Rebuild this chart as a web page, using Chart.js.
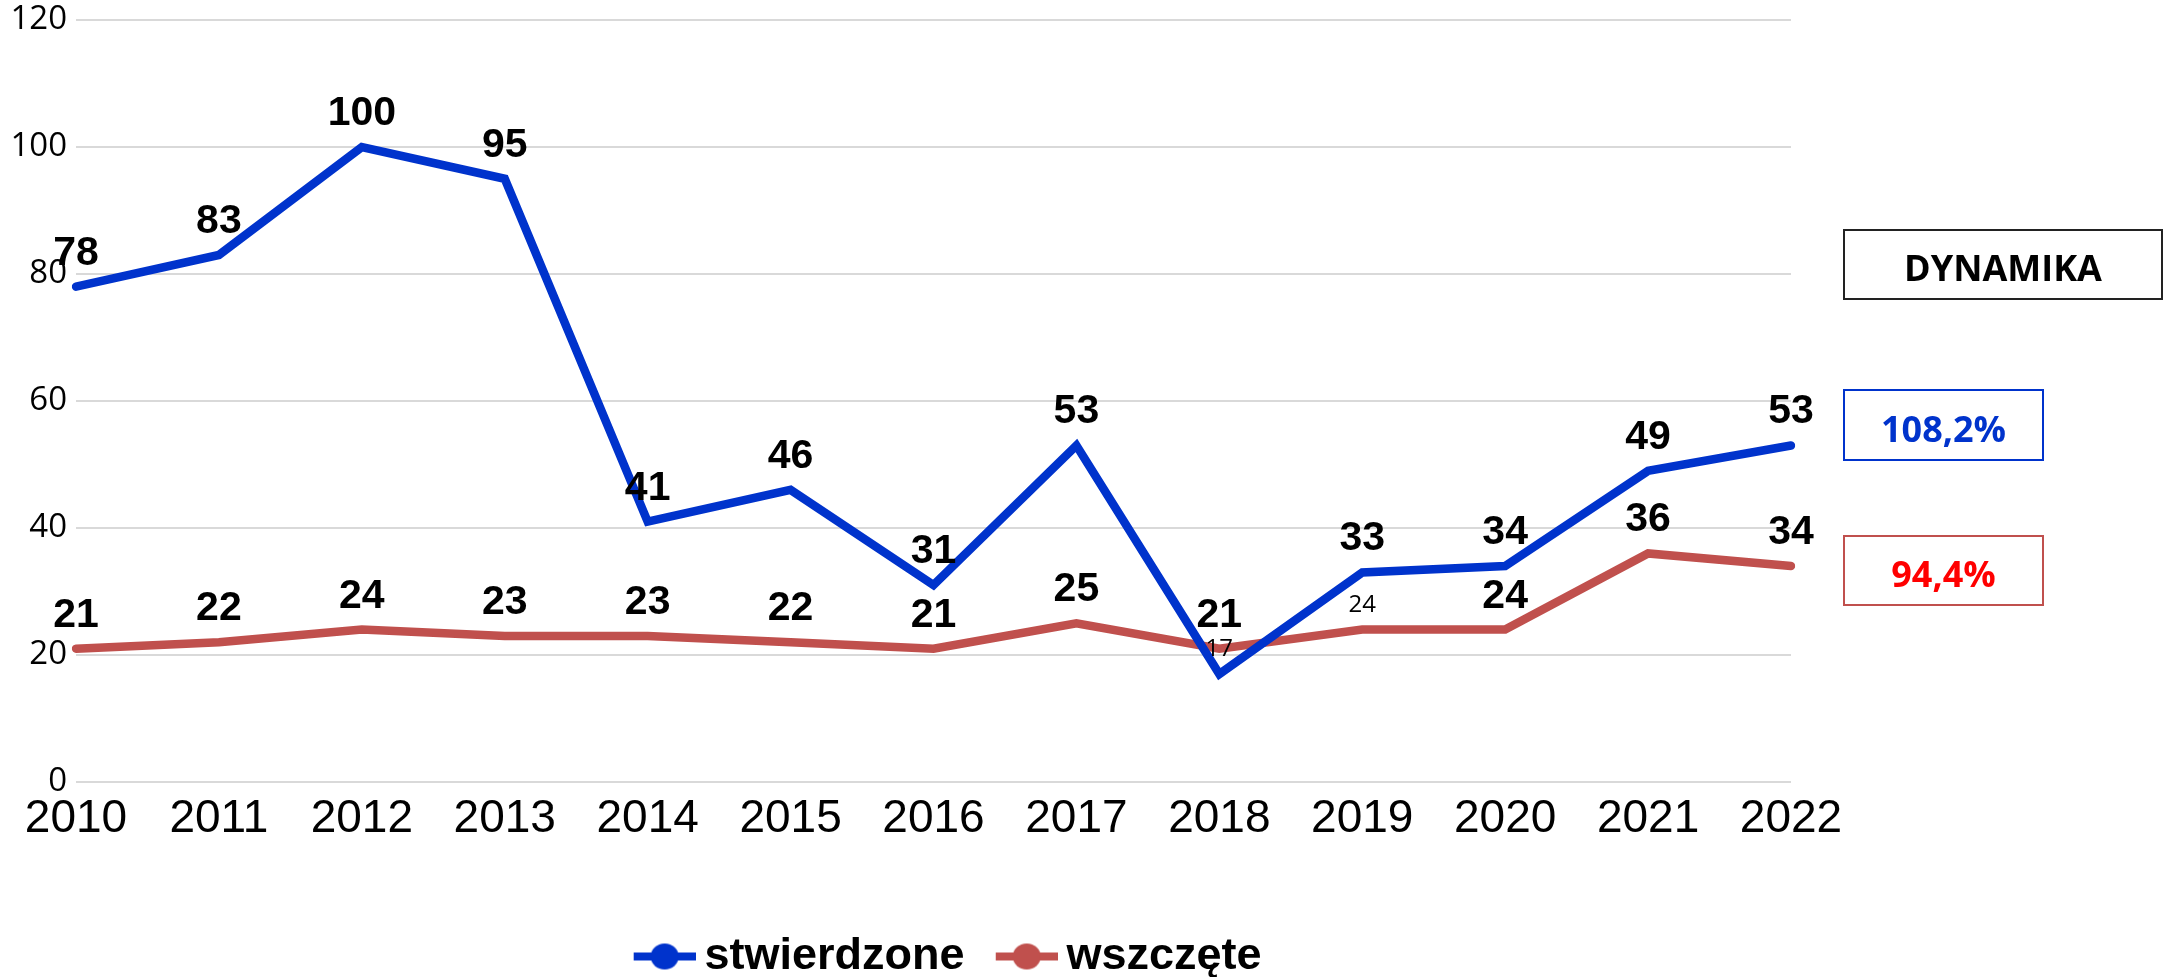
<!DOCTYPE html>
<html>
<head>
<meta charset="utf-8">
<title>Dynamika</title>
<script src="https://cdn.jsdelivr.net/npm/chart.js@4.4.0/dist/chart.umd.min.js"></script>
<style>
  html, body { margin: 0; padding: 0; background: #fff; overflow: hidden; }
  #wrap { position: relative; width: 2172px; height: 977px; }
  .box {
    position: absolute; box-sizing: border-box; border: 2px solid;
    display: flex; align-items: center; justify-content: center;
    font-family: "Open Sans"; font-weight: bold; font-size: 36px; padding-top: 6px;
  }
</style>
</head>
<body>
<div id="wrap">
  <canvas id="canvas" width="2172" height="977"></canvas>
  <div class="box" id="tytul" style="left:1843px;top:229px;width:320px;height:71px;border-color:#222;color:#000"></div>
  <div class="box" id="dyn1" style="left:1843px;top:389px;width:201px;height:72px;border-color:#0033CC;color:#0033CC"></div>
  <div class="box" id="dyn2" style="left:1843px;top:535px;width:201px;height:71px;border-color:#C0504D;color:#FF0000"></div>
</div>

<script>
// dane
const lata = ['2010', '2011', '2012', '2013', '2014', '2015', '2016', '2017', '2018', '2019', '2020', '2021', '2022'];
const stwierdzone = [78, 83, 100, 95, 41, 46, 31, 53, 17, 33, 34, 49, 53];
const wszczete = [21, 22, 24, 23, 23, 22, 21, 25, 21, 24, 24, 36, 34];
const osY = [0, 20, 40, 60, 80, 100, 120];
const tytulDynamiki = 'DYNAMIKA';
const dynamika = ['108,2%', '94,4%'];

document.getElementById('tytul').textContent = tytulDynamiki;
document.getElementById('dyn1').textContent = dynamika[0];
document.getElementById('dyn2').textContent = dynamika[1];

// legend marker: line with a dot, shifted right inside a wider image
function marker(color) {
    const c = document.createElement('canvas');
    c.width = 104;
    c.height = 30;
    const g = c.getContext('2d');
    g.strokeStyle = color;
    g.lineWidth = 8;
    g.beginPath();
    g.moveTo(42, 15);
    g.lineTo(104, 15);
    g.stroke();
    g.fillStyle = color;
    g.beginPath();
    g.ellipse(73, 15, 14, 13, 0, 0, Math.PI * 2);
    g.fill();
    return c;
}

// value labels above the points
const etykiety = {
    id: 'etykiety',
    afterDatasetsDraw(chart) {
        const ctx = chart.ctx;
        chart.data.datasets.forEach((ds, i) => {
            const meta = chart.getDatasetMeta(i);
            meta.data.forEach((pt, j) => {
                const small = ds.smallLabels.includes(j);
                ctx.save();
                ctx.font = small ? '24px "Open Sans"' : 'bold 41px "Liberation Sans"';
                ctx.fillStyle = '#000';
                ctx.textAlign = 'center';
                ctx.textBaseline = 'alphabetic';
                ctx.fillText(ds.data[j], pt.x, pt.y - (small ? 18 : 22));
                ctx.restore();
            });
        });
    }
};

const markers = [marker('#0033CC'), marker('#C0504D')];

new Chart(document.getElementById('canvas'), {
    type: 'line',
    data: {
        labels: lata,
        datasets: [{
            label: 'stwierdzone',
            data: stwierdzone,
            borderColor: '#0033CC',
            backgroundColor: '#0033CC',
            borderWidth: 8.5,
            borderCapStyle: 'round',
            pointRadius: 0,
            tension: 0,
            smallLabels: [8]
        }, {
            label: 'wszczęte',
            data: wszczete,
            borderColor: '#C0504D',
            backgroundColor: '#C0504D',
            borderWidth: 8.5,
            borderCapStyle: 'round',
            pointRadius: 0,
            tension: 0,
            smallLabels: [9]
        }]
    },
    options: {
        responsive: false,
        animation: false,
        layout: { autoPadding: false, padding: { top: 20, right: 381, bottom: -12, left: 0 } },
        plugins: {
            tooltip: { enabled: false },
            legend: {
                position: 'bottom',
                fullSize: false,
                labels: {
                    usePointStyle: true,
                    pointStyleWidth: 76.5,
                    boxHeight: 45,
                    padding: 3,
                    color: '#000',
                    font: { family: '"Liberation Sans"', size: 45, weight: 'bold' },
                    generateLabels: (chart) => chart.data.datasets.map((ds, i) => ({
                        text: ds.label,
                        pointStyle: markers[i],
                        fillStyle: ds.borderColor,
                        strokeStyle: ds.borderColor,
                        lineWidth: 0,
                        hidden: false,
                        datasetIndex: i,
                        fontColor: '#000'
                    }))
                }
            }
        },
        scales: {
            x: {
                grid: { display: false },
                border: { display: false },
                ticks: {
                    color: '#000',
                    padding: 2,
                    autoSkip: false,
                    maxRotation: 0,
                    font: { family: '"Liberation Sans"', size: 46 }
                },
                afterFit: (scale) => { scale.height = 149; }
            },
            y: {
                min: osY[0],
                max: osY[osY.length - 1],
                grid: { color: '#D9D9D9', lineWidth: 2, drawTicks: false },
                border: { display: false },
                ticks: {
                    stepSize: osY[1] - osY[0],
                    color: '#000',
                    padding: 9,
                    font: { family: '"Open Sans"', size: 33 }
                },
                afterFit: (scale) => {
                    scale.width = 76;
                    scale.paddingTop = 0;
                    scale.paddingBottom = 0;
                }
            }
        }
    },
    plugins: [etykiety]
});
</script>
</body>
</html>
